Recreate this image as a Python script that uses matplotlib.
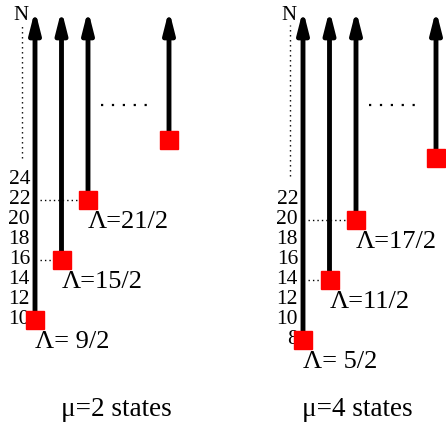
import matplotlib.pyplot as plt
import numpy as np

plt.rcParams['font.family'] = ['Liberation Serif', 'DejaVu Serif']

# two panels: mu=2 and mu=4 states
left_ticks = [10, 12, 14, 16, 18, 20, 22, 24]
right_ticks = [8, 10, 12, 14, 16, 18, 20, 22]
left_starts = [10, 16, 22]
right_starts = [8, 14, 20]
left_labels = ['Λ= 9/2', 'Λ=15/2', 'Λ=21/2']
right_labels = ['Λ= 5/2', 'Λ=11/2', 'Λ=17/2']
left_last = 28
right_last = 26.2
titles = ['μ=2 states', 'μ=4 states']

n_top = 41.0
fig = plt.figure(figsize=(4.46, 4.25), dpi=100)
ax = fig.add_axes([0, 0, 1, 1])
ax.set_xlim(0, 446)
ax.set_ylim(-0.5, 42)
ax.axis('off')

ftsize = 15.5
col_dx = 26.5
arrow_kw = dict(arrowstyle='-|>,head_length=1.3,head_width=0.33',
                lw=3.5, color='k', shrinkA=0, shrinkB=0)


def panel(x0, ticks, starts, labels, last, x_axis, x_last, title, x_title):
    # tick numbers along the N axis
    for t in ticks:
        ax.text(x_axis, t, str(t), ha='right', va='center', fontsize=ftsize)
    ax.text(x_axis - 1, 40.5, 'N', ha='right', va='center', fontsize=15)
    # vertical dotted axis
    ax.plot([x_axis - 8, x_axis - 8], [last - 1.8, 39.5], color='k', ls=(0, (1, 2.6)), lw=1)
    xs = x0 + col_dx * np.arange(len(starts))
    for i, (x, s, lab) in enumerate(zip(xs, starts, labels)):
        ax.annotate('', xy=(x, n_top), xytext=(x, s), arrowprops=arrow_kw)
        if i > 0:
            ax.plot([x0 + 5, x - 8], [s, s], color='k', ls=(0, (1, 2.2)), lw=1)
        ax.text(x, s - 2.2, lab, ha='left', va='center', fontsize=19)
    ax.plot(xs, starts, 's', color='red', ms=13, zorder=5)
    # last column with ellipsis
    ax.annotate('', xy=(x_last, n_top), xytext=(x_last, last), arrowprops=arrow_kw)
    ax.plot([x_last], [last], 's', color='red', ms=13, zorder=5)
    ax.plot([x0 + 66, x0 + 112], [31.5, 31.5], color='k', ls=(0, (1, 3.9)), lw=1.6)
    ax.text(x_title, 1.0, title, ha='center', va='center', fontsize=19.5)


panel(35, left_ticks, left_starts, left_labels, left_last, 30, 169, titles[0], 116)
panel(303, right_ticks, right_starts, right_labels, right_last, 298, 436, titles[1], 357)

fig.savefig('out.png', dpi=100)
